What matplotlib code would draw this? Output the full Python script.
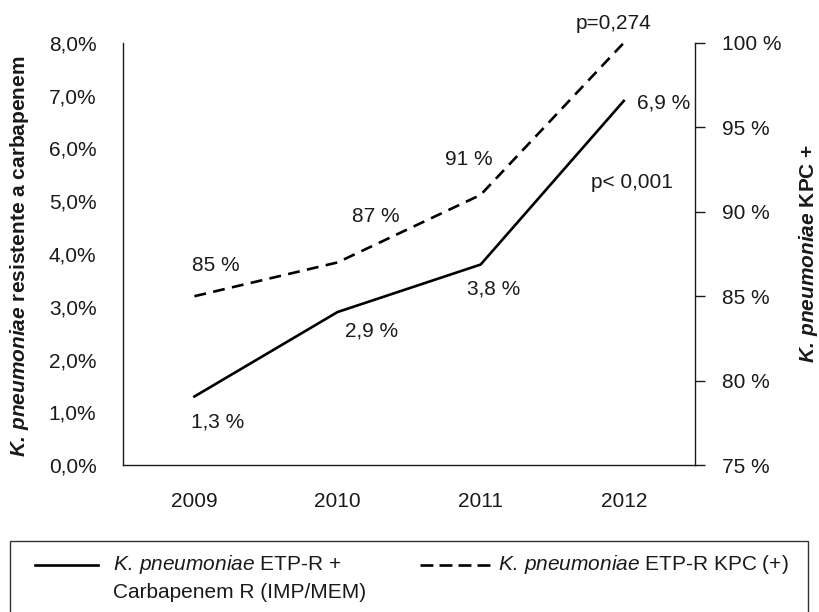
import matplotlib
matplotlib.use('Agg')
import matplotlib.pyplot as plt
from matplotlib.lines import Line2D
from matplotlib.patches import Rectangle
import numpy as np

years = ['2009', '2010', '2011', '2012']
carb_r = [1.3, 2.9, 3.8, 6.9]      # % K. pneumoniae ETP-R + Carbapenem R
kpc_pos = [85, 87, 91, 100]        # % K. pneumoniae ETP-R KPC (+)
carb_labels = ['1,3 %', '2,9 %', '3,8 %', '6,9 %']
kpc_labels = ['85 %', '87 %', '91 %']
p_carb = 'p< 0,001'
p_kpc = 'p=0,274'

plt.rcParams['font.family'] = ['Liberation Sans', 'DejaVu Sans']
plt.rcParams['mathtext.fontset'] = 'custom'
plt.rcParams['mathtext.rm'] = 'Liberation Sans'
plt.rcParams['mathtext.it'] = 'Liberation Sans:italic'
plt.rcParams['mathtext.bf'] = 'Liberation Sans:bold'
plt.rcParams['mathtext.bfit'] = 'Liberation Sans:italic:bold'

FS = 15
INK = '#1a1a1a'
DASH = (0, (4.5, 2.8))

fig = plt.figure(figsize=(8.19, 6.12), dpi=100)
ax = fig.add_axes([0.150, 0.240, 0.699, 0.690])
ax2 = ax.twinx()

x = np.arange(len(years))
ax.plot(x, carb_r, color='black', lw=1.9)
ax2.plot(x, kpc_pos, color='black', lw=1.9, ls=DASH)

ax.set_xlim(-0.5, 3.5)
ax.set_ylim(0, 8)
ax2.set_ylim(75, 100)

ax.set_xticks(x)
ax.set_xticklabels(years)
ax.set_yticks(np.arange(0, 9, 1))
ax.set_yticklabels([f'{v:.1f}%'.replace('.', ',') for v in range(0, 9)])
ax2.set_yticks(np.arange(75, 101, 5))
ax2.set_yticklabels([f'{v} %' for v in range(75, 101, 5)])

ax.tick_params(axis='x', length=0, pad=19, labelsize=FS, colors=INK)
ax.tick_params(axis='y', length=0, pad=19, labelsize=FS, colors=INK)
ax2.tick_params(axis='y', length=7, width=1, direction='out', pad=12,
                labelsize=FS, colors=INK)

for a in (ax, ax2):
    a.spines['top'].set_visible(False)
    for s in ('left', 'right', 'bottom'):
        a.spines[s].set_linewidth(1.0)
        a.spines[s].set_color(INK)
ax.spines['right'].set_visible(False)
ax2.spines['left'].set_visible(False)
ax2.spines['bottom'].set_visible(False)

# value labels (offsets in pixels)
carb_off = [(-3, -26), (7, -19), (-14, -24), (13, -2)]
for xi, yi, lab, off in zip(x, carb_r, carb_labels, carb_off):
    ax.annotate(lab, (xi, yi), xytext=off, textcoords='offset pixels',
                ha='left', va='center', fontsize=FS, color=INK)
ax.annotate(p_carb, (x[3], carb_r[3]), xytext=(-33, -82), textcoords='offset pixels',
            ha='left', va='center', fontsize=FS, color=INK)

kpc_off = [(-2, 31), (14, 46), (-36, 35)]
for xi, yi, lab, off in zip(x, kpc_pos, kpc_labels, kpc_off):
    ax2.annotate(lab, (xi, yi), xytext=off, textcoords='offset pixels',
                 ha='left', va='center', fontsize=FS, color=INK)
ax2.annotate(p_kpc, (x[3], kpc_pos[3]), xytext=(-48, 19), textcoords='offset pixels',
             ha='left', va='center', fontsize=FS, color=INK, annotation_clip=False)

# axis titles
fig.text(20 / 819, 1 - 256 / 612,
         r'$\mathbfit{K.\,pneumoniae}$ resistente a carbapenem',
         rotation=90, ha='center', va='center', fontsize=FS, fontweight='bold', color=INK)
fig.text(808 / 819, 1 - 253 / 612,
         r'$\mathbfit{K.\,pneumoniae}$ KPC +',
         rotation=90, ha='center', va='center', fontsize=FS, fontweight='bold', color=INK)

# legend box
fig.patches.append(Rectangle((10 / 819, -0.05), 798 / 819, 0.05 + 1 - 541 / 612,
                             transform=fig.transFigure, fill=False, lw=1.0, ec='#333333'))
y1 = 1 - 565 / 612
y2 = 1 - 593 / 612
fig.lines.append(Line2D([35 / 819, 98 / 819], [y1, y1], transform=fig.transFigure,
                        color='black', lw=1.9))
fig.lines.append(Line2D([420 / 819, 490 / 819], [y1, y1], transform=fig.transFigure,
                        color='black', lw=1.9, ls=(0, (4.9, 2.3))))
fig.text(113 / 819, y1, r'$\mathit{K.\,pneumoniae}$ ETP-R +', ha='left', va='center',
         fontsize=FS, color=INK)
fig.text(113 / 819, y2, 'Carbapenem R (IMP/MEM)', ha='left', va='center',
         fontsize=FS, color=INK)
fig.text(498 / 819, y1, r'$\mathit{K.\,pneumoniae}$ ETP-R KPC (+)', ha='left', va='center',
         fontsize=FS, color=INK)

fig.savefig('out.png', dpi=100)
